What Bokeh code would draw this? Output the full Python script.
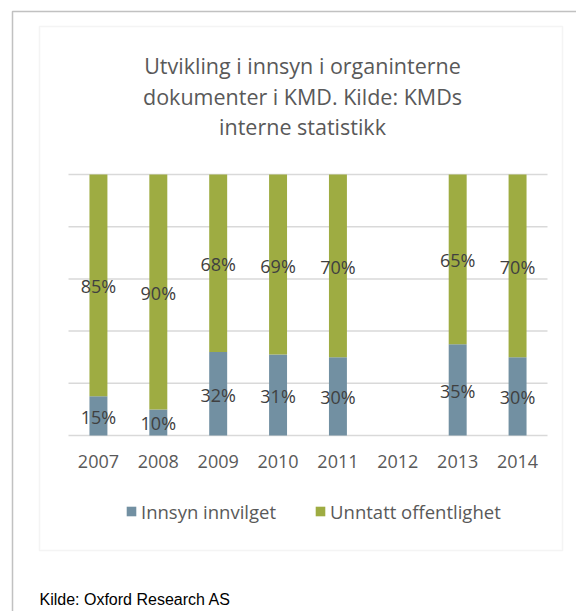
import math
from bokeh.plotting import figure
from bokeh.models import (Range1d, FixedTicker, Label, BoxAnnotation, LinearAxis,
                          Legend, LegendItem, ColumnDataSource)
from bokeh.core.properties import value
from bokeh.embed import file_html
from bokeh.resources import INLINE

# ---------------- data ----------------
years = ["2007", "2008", "2009", "2010", "2011", "2012", "2013", "2014"]
innsyn_innvilget = [15, 10, 32, 31, 30, None, 35, 30]          # %
unntatt_offentlighet = [85, 90, 68, 69, 70, None, 65, 70]      # %
series_names = ["Innsyn innvilget", "Unntatt offentlighet"]
y_ticks = [0, 20, 40, 60, 80, 100]
title_lines = ["Utvikling i innsyn i organinterne",
               "dokumenter i KMD. Kilde: KMDs",
               "interne statistikk"]
source_note = "Kilde: Oxford Research AS"

# ---------------- styles / layout ----------------
BLUE = "#7290A2"
GREEN = "#9EAC42"
TXT = "#595959"
LBL = "#404040"
GRID = "#D9D9D9"
FONT = "Open Sans"

W, H = 576, 611
PL, PR, PT, PB = 68, 547, 174, 435          # plot area in canvas pixels
n = len(years)
xpx = (PR - PL) / n
x_start = -0.5 - PL / xpx
x_end = (n - 0.5) + (W - PR) / xpx
ypx = (PB - PT) / 100.0
y_start = 0 - (H - PB) / ypx
y_end = 100 + PT / ypx

def nz(v):
    return float("nan") if v is None else float(v)

idx = list(range(n))
a = [nz(v) for v in innsyn_innvilget]
b = [nz(v) for v in unntatt_offentlighet]
src = ColumnDataSource(dict(
    x=idx,
    b0=[0.0] * n,
    b1=a,
    g0=a,
    g1=[p + q for p, q in zip(a, b)],
))

lx, ly, lt = [], [], []
for i, p_, q_ in zip(idx, a, b):
    if not math.isnan(p_):
        lx.append(i); ly.append(p_ / 2); lt.append(f"{p_:.0f}%")
    if not math.isnan(q_):
        lx.append(i); ly.append(p_ + q_ / 2); lt.append(f"{q_:.0f}%")
lsrc = ColumnDataSource(dict(x=lx, y=ly, t=lt))

p = figure(width=W, height=H, x_range=Range1d(x_start, x_end),
           y_range=Range1d(y_start, y_end), output_backend="svg",
           toolbar_location=None, x_axis_location=None, y_axis_location=None,
           min_border=0)
p.outline_line_color = None
p.background_fill_color = "white"
p.border_fill_color = "white"
p.grid.visible = False

# horizontal gridlines across the plot area
gsrc = ColumnDataSource(dict(x0=[-0.5] * len(y_ticks), x1=[n - 0.5] * len(y_ticks),
                             y=y_ticks))
p.segment(x0="x0", x1="x1", y0="y", y1="y", source=gsrc,
          line_color=GRID, line_width=1.5)

r_blue = p.vbar(x="x", bottom="b0", top="b1", width=0.3, source=src,
                fill_color=BLUE, line_color=None)
r_green = p.vbar(x="x", bottom="g0", top="g1", width=0.3, source=src,
                 fill_color=GREEN, line_color=None)

p.text(x="x", y="y", text="t", source=lsrc, text_font=value(FONT),
       text_font_size="18px", text_color=LBL, text_align="center",
       text_baseline="middle", y_offset=1)

xaxis = LinearAxis(fixed_location=0, ticker=FixedTicker(ticks=idx),
                   major_label_overrides={i: yr for i, yr in zip(idx, years)})
xaxis.axis_line_color = None
xaxis.major_tick_line_color = None
xaxis.minor_tick_line_color = None
xaxis.major_label_text_font = FONT
xaxis.major_label_text_font_size = "18px"
xaxis.major_label_text_color = TXT
xaxis.major_label_standoff = 13
p.add_layout(xaxis, "below")

# title lines
for line, ym in zip(title_lines, [64.5, 95.5, 125.5]):
    p.add_layout(Label(x=302, y=ym, x_units="canvas", y_units="canvas",
                       text=line, text_align="center", text_baseline="middle",
                       text_font=FONT, text_font_size="21.5px", text_color=TXT))

# source note
p.add_layout(Label(x=39, y=599, x_units="canvas", y_units="canvas",
                   text=source_note, text_align="left", text_baseline="middle",
                   text_font="Liberation Sans",
                   text_font_size="16px", text_color="black"))

# borders
p.add_layout(BoxAnnotation(left=39, right=562, top=26, bottom=550,
                           left_units="canvas", right_units="canvas",
                           top_units="canvas", bottom_units="canvas",
                           fill_alpha=0, line_color=GRID, line_width=1.5))
p.add_layout(BoxAnnotation(left=12, right=1000, top=11, bottom=1000,
                           left_units="canvas", right_units="canvas",
                           top_units="canvas", bottom_units="canvas",
                           fill_alpha=0, line_color="#333333", line_width=1.5))

legend = Legend(items=[LegendItem(label=series_names[0], renderers=[r_blue]),
                       LegendItem(label=series_names[1], renderers=[r_green])],
                orientation="horizontal", location=(125, 87.5),
                glyph_width=12, glyph_height=12, label_standoff=4, spacing=38,
                padding=0, margin=0, border_line_color=None,
                background_fill_alpha=0, label_text_font=FONT,
                label_text_font_size="18.5px", label_text_color=TXT)
p.add_layout(legend, "center")

open("out.html", "w").write(file_html(p, INLINE))
